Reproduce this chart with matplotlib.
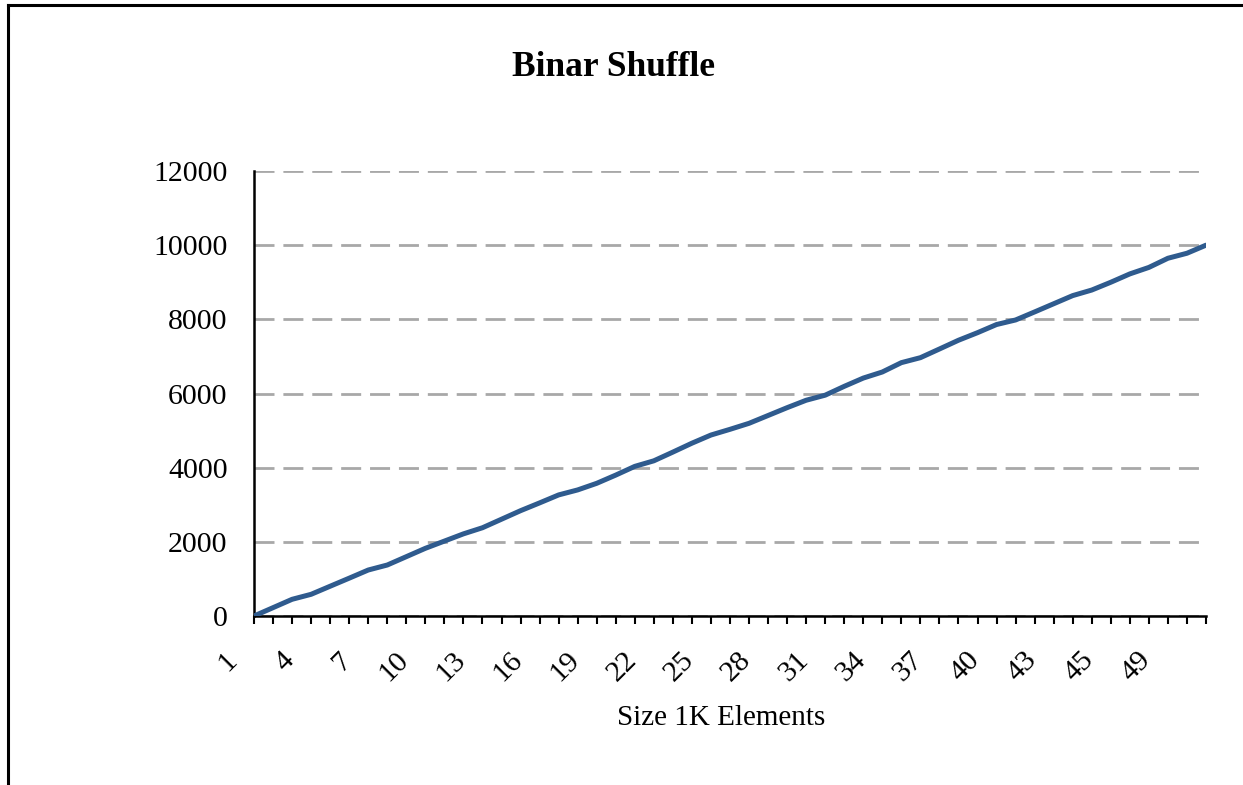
import matplotlib
matplotlib.use("Agg")
import matplotlib.pyplot as plt
import matplotlib.transforms as mtransforms
from matplotlib.lines import Line2D

# ---- data ----
categories = [str(i) for i in range(1, 44)] + ["44", "44", "45", "46", "48", "49", "50", "51"]
runtime = [0, 225, 450, 585, 803, 1020, 1240, 1375, 1600, 1825,
           2020, 2215, 2380, 2610, 2840, 3050, 3265, 3400, 3578, 3800,
           4035, 4185, 4420, 4660, 4880, 5034, 5196, 5407, 5618, 5818,
           5955, 6193, 6416, 6580, 6832, 6966, 7200, 7436, 7640, 7860,
           7983, 8200, 8420, 8640, 8790, 9000, 9225, 9400, 9647, 9782,
           10000]
label_step = 3
y_ticks = [0, 2000, 4000, 6000, 8000, 10000, 12000]

title = "Binar Shuffle"
xlabel = "Size 1K Elements"

plt.rcParams['font.family'] = ['Liberation Serif', 'DejaVu Serif']

W, H = 1243, 785
fig = plt.figure(figsize=(W / 100, H / 100), dpi=100)
fig.patch.set_facecolor('white')

left, right, top, bottom = 254, 1206, 171, 616
ax = fig.add_axes([left / W, 1 - bottom / H, (right - left) / W, (bottom - top) / H])

x = list(range(len(categories)))
ax.plot(x, runtime, color='#2F5B8E', lw=3.6, solid_capstyle='round', solid_joinstyle='round', zorder=3)

ax.set_xlim(0, len(categories) - 1)
ax.set_ylim(0, 12000)
ax.set_yticks(y_ticks)
ax.set_yticklabels([str(v) for v in y_ticks], fontsize=21.5)
ax.tick_params(axis='y', length=0, pad=19)
ax.yaxis.grid(True, color='#A8A8A8', lw=2.0, linestyle=(0, (7.2, 3.2)))
ax.set_axisbelow(True)

ax.set_xticks(x)
ax.set_xticklabels([c if i % label_step == 0 else "" for i, c in enumerate(categories)],
                   fontsize=21.5, rotation=45, ha='right', va='center', rotation_mode='anchor')
ax.tick_params(axis='x', direction='out', length=6, width=1.5, pad=23)
offset = mtransforms.ScaledTranslation(-21 / 100, 0, fig.dpi_scale_trans)
for lab in ax.get_xticklabels():
    lab.set_transform(lab.get_transform() + offset)

for s in ['top', 'right']:
    ax.spines[s].set_visible(False)
for s in ['left', 'bottom']:
    ax.spines[s].set_linewidth(1.8)
    ax.spines[s].set_color('black')

fig.text(614 / W, 1 - 68 / H, title, fontsize=25.5, fontweight='bold', ha='center', va='center')
fig.text(721 / W, 1 - 718 / H, xlabel, fontsize=21, ha='center', va='center')

# outer chart border (top and left edges visible)
fig.add_artist(Line2D([8 / W, 1.0], [1 - 5 / H, 1 - 5 / H], color='black', lw=2.2, transform=fig.transFigure))
fig.add_artist(Line2D([8 / W, 8 / W], [0.0, 1 - 5 / H], color='black', lw=2.2, transform=fig.transFigure))

fig.savefig("out.png", dpi=100)
